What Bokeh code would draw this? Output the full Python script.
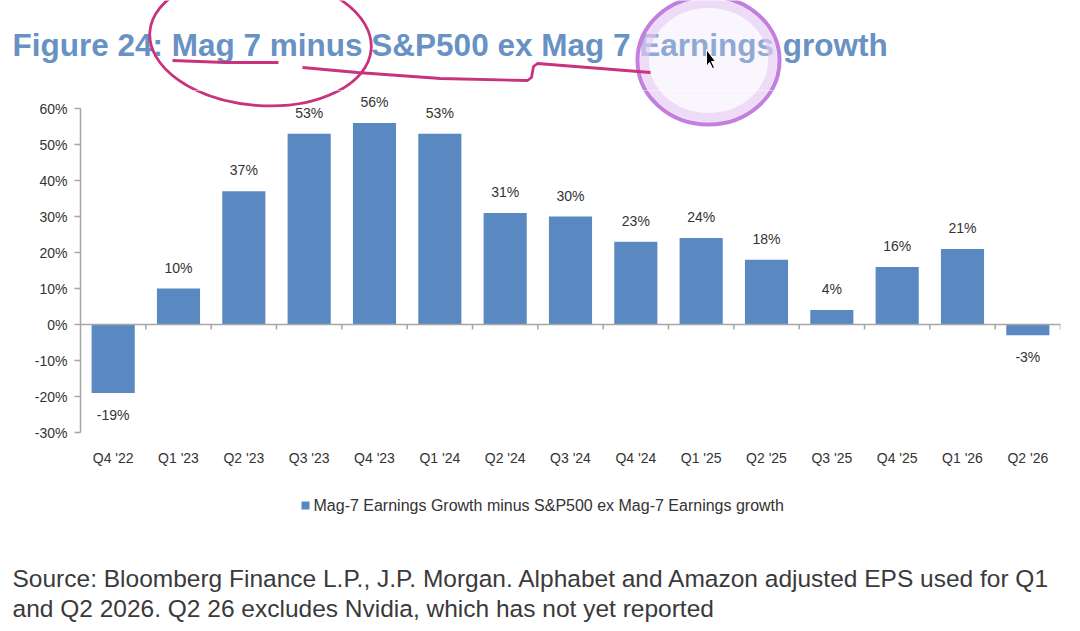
from bokeh.plotting import figure
from bokeh.layouts import column
from bokeh.models import (Range1d, FixedTicker, ColumnDataSource, LabelSet, Span,
                          CustomJSTickFormatter)
from bokeh.core.properties import value
from bokeh.embed import file_html
from bokeh.resources import INLINE

quarters = ["Q4 '22", "Q1 '23", "Q2 '23", "Q3 '23", "Q4 '23", "Q1 '24", "Q2 '24",
            "Q3 '24", "Q4 '24", "Q1 '25", "Q2 '25", "Q3 '25", "Q4 '25", "Q1 '26", "Q2 '26"]
growth_gap = [-19, 10, 37, 53, 56, 53, 31, 30, 23, 24, 18, 4, 16, 21, -3]
bar_labels = ["-19%", "10%", "37%", "53%", "56%", "53%", "31%", "30%", "23%", "24%",
              "18%", "4%", "16%", "21%", "-3%"]
y_ticks = [-30, -20, -10, 0, 10, 20, 30, 40, 50, 60]

TITLE = "Figure 24: Mag 7 minus S&P500 ex Mag 7 Earnings growth"
SERIES = "Mag-7 Earnings Growth minus S&P500 ex Mag-7 Earnings growth"
SOURCE1 = "Source: Bloomberg Finance L.P., J.P. Morgan. Alphabet and Amazon adjusted EPS used for Q1"
SOURCE2 = "and Q2 2026. Q2 26 excludes Nvidia, which has not yet reported"

# hand-drawn screen markup over the title (page pixel coordinates)
ring_pink = dict(x=260, y=40, w=222, h=130)
scribble_x = [172, 225, 278]
scribble_y = [60, 62, 62]
scribble2_x = [302, 357, 440, 527, 531, 533, 537, 600, 650]
scribble2_y = [67, 72, 78, 80, 77, 66, 63, 68, 72]
ring_purple = dict(x=708, y=60, w=142, h=128)
cursor_x = [706, 706, 709, 712, 714, 711, 715]
cursor_y = [49, 66, 62, 68, 67, 61, 61]

BAR = "#5a88c0"
TXT = "#333333"
AX = "#a6a6a6"
PINK = "#c9327d"
FONT = "Liberation Sans"
W = 1072

n = len(quarters)
xc = [i + 0.5 for i in range(n)]

# layout geometry of the chart strip
h0 = 90
BL, BR, BB = 80, 12, 46
h1 = 388
Y_LO, Y_HI = -30, 65


def strip(h):
    f = figure(width=W, height=h, x_range=Range1d(0, W), y_range=Range1d(h, 0),
               output_backend="svg", toolbar_location=None, min_border=0,
               x_axis_location=None, y_axis_location=None)
    f.frame_align = False
    f.grid.visible = False
    f.outline_line_color = None
    return f


def markup(f, tx, ty):
    f.ellipse(x=tx(ring_purple["x"]), y=ty(ring_purple["y"]), width=ring_purple["w"],
              height=ring_purple["h"], width_units="screen", height_units="screen",
              fill_color="#efe0f8", fill_alpha=0.3, line_color="#c27fe0", line_width=4)
    f.ellipse(x=tx(ring_purple["x"]), y=ty(ring_purple["y"]), width=ring_purple["w"] - 14,
              height=ring_purple["h"] - 14, width_units="screen", height_units="screen",
              fill_color=None, line_color="#e4c9f4", line_alpha=0.6, line_width=9)
    f.ellipse(x=tx(ring_pink["x"]), y=ty(ring_pink["y"]), width=ring_pink["w"],
              height=ring_pink["h"], width_units="screen", height_units="screen",
              angle=-0.08, fill_color=None, line_color=PINK, line_width=2.8)


# ---------- header strip (title) ----------
p0 = strip(h0)
p0.text(x=[12], y=[44], text=[TITLE], text_font=value(FONT), text_font_size="31.5px",
        text_font_style="bold", text_color="#6891c4", text_baseline="middle")
markup(p0, lambda v: v, lambda v: v)
p0.line(scribble_x, scribble_y, line_color=PINK, line_width=2.8)
p0.line(scribble2_x, scribble2_y, line_color=PINK, line_width=2.8)
p0.patch(cursor_x, cursor_y, fill_color="black", line_color="white", line_width=1)

# ---------- chart ----------
p = figure(width=W, height=h1, x_range=Range1d(0, n), y_range=Range1d(Y_LO, Y_HI),
           output_backend="svg", toolbar_location=None,
           min_border_left=BL, min_border_right=BR, min_border_top=0, min_border_bottom=BB)
p.frame_align = False
p.outline_line_color = None
p.grid.visible = False

px_per_x = (W - BL - BR) / n
px_per_y = (h1 - BB) / (Y_HI - Y_LO)
markup(p, lambda v: (v - BL) / px_per_x, lambda v: Y_HI - (v - h0) / px_per_y)

src = ColumnDataSource(dict(x=xc, top=growth_gap, lab=bar_labels, q=quarters))
p.vbar(x="x", top="top", bottom=0, width=0.66, source=src, fill_color=BAR, line_color=None)

pos = ColumnDataSource(dict(x=[x for x, v in zip(xc, growth_gap) if v >= 0],
                            y=[v for v in growth_gap if v >= 0],
                            t=[l for l, v in zip(bar_labels, growth_gap) if v >= 0]))
neg = ColumnDataSource(dict(x=[x for x, v in zip(xc, growth_gap) if v < 0],
                            y=[v for v in growth_gap if v < 0],
                            t=[l for l, v in zip(bar_labels, growth_gap) if v < 0]))
for s, off in ((pos, 21), (neg, -22)):
    p.add_layout(LabelSet(x="x", y="y", text="t", source=s, y_offset=off,
                          text_align="center", text_baseline="middle",
                          text_font=value(FONT), text_font_size="14px", text_color=TXT))

# zero line with category separator ticks
p.add_layout(Span(location=0, dimension="width", line_color=AX, line_width=1.5))
bounds = list(range(1, n + 1))
p.segment(x0=bounds, y0=[0] * len(bounds), x1=bounds, y1=[-1.4] * len(bounds),
          line_color=AX, line_width=1.5)

ya = p.yaxis[0]
ya.bounds = (y_ticks[0], y_ticks[-1])
ya.ticker = FixedTicker(ticks=y_ticks)
ya.formatter = CustomJSTickFormatter(code="return tick + '%';")
ya.axis_line_color = AX
ya.axis_line_width = 1.5
ya.major_tick_line_color = AX
ya.major_tick_line_width = 1.5
ya.major_tick_out = 6
ya.major_tick_in = 0
ya.minor_tick_line_color = None
ya.major_label_text_font = FONT
ya.major_label_text_font_size = "14px"
ya.major_label_text_color = TXT
ya.major_label_standoff = 7

xa = p.xaxis[0]
xa.ticker = FixedTicker(ticks=xc)
xa.major_label_overrides = {x: q for x, q in zip(xc, quarters)}
xa.axis_line_color = None
xa.major_tick_line_color = None
xa.minor_tick_line_color = None
xa.major_tick_out = 0
xa.major_label_standoff = 17
xa.major_label_text_font = FONT
xa.major_label_text_font_size = "14px"
xa.major_label_text_color = TXT

# ---------- legend + source strip ----------
h2 = 145
p2 = strip(h2)
p2.rect(x=[305], y=[27], width=8, height=8, fill_color=BAR, line_color=None)
p2.text(x=[313], y=[27], text=[SERIES], text_font=value(FONT), text_font_size="16px",
        text_color=TXT, text_baseline="middle")
p2.text(x=[12, 12], y=[100, 130], text=[SOURCE1, SOURCE2], text_font=value(FONT),
        text_font_size="24.5px", text_color="#3a3a3a", text_baseline="middle")

layout = column(p0, p, p2, spacing=0)
open("out.html", "w").write(file_html(layout, INLINE))
